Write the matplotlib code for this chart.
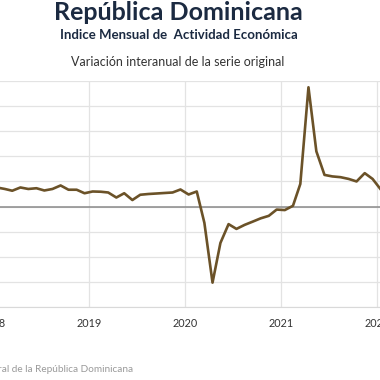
import datetime as dt
import matplotlib
matplotlib.use("Agg")
import matplotlib.pyplot as plt
import matplotlib.dates as mdates

# variacion interanual IMAE (%), enero 2018 - enero 2022
meses = [dt.date(2018 + (i // 12), i % 12 + 1, 15) for i in range(49)]
var_2018 = [7.6, 7.0, 6.3, 7.6, 7.0, 7.3, 6.4, 7.0, 8.4, 6.7, 6.7, 5.3]
var_2019 = [6.0, 5.9, 5.6, 3.6, 5.3, 2.6, 4.7, 5.0, 5.2, 5.4, 5.6, 6.8]
var_2020 = [4.8, 6.0, -6.5, -30.3, -14.5, -7.0, -8.9, -7.3, -6.0, -4.7, -3.7, -1.2]
var_2021 = [-1.4, 0.3, 9.0, 47.5, 22.0, 12.6, 12.0, 11.7, 11.0, 10.0, 13.3, 11.0]
var_2022 = [6.8]
valores = var_2018 + var_2019 + var_2020 + var_2021 + var_2022

navy = "#1b2a41"
linea = "#6b5228"

fig = plt.figure(figsize=(3.8, 3.8), dpi=100)

# eje mas ancho que la figura (la imagen original esta recortada)
x0, x1 = dt.date(2017, 9, 1), dt.date(2022, 4, 1)
px_dia = 96 / 365.25
left_px = 89 - (dt.date(2019, 1, 1) - x0).days * px_dia
right_px = 89 + (x1 - dt.date(2019, 1, 1)).days * px_dia
ax = fig.add_axes([left_px / 380, (380 - 307) / 380,
                   (right_px - left_px) / 380, (307 - 81) / 380])

ax.plot(meses, valores, color=linea, lw=1.9, solid_joinstyle="round", zorder=3)
ax.axhline(0, color="#8a8a8a", lw=1.1, zorder=2)

ax.set_xlim(x0, x1)
ax.set_ylim(-40, 50)
ax.set_yticks(range(-40, 51, 10))
ax.xaxis.set_major_locator(mdates.YearLocator())
ax.xaxis.set_major_formatter(mdates.DateFormatter("%Y"))
ax.grid(True, color="#e3e3e3", lw=0.9)
ax.set_axisbelow(True)
for s in ["top", "right", "left"]:
    ax.spines[s].set_visible(False)
ax.spines["bottom"].set_color("#d9d9d9")
ax.tick_params(axis="both", length=0, labelsize=7.8, labelcolor="#333333", pad=8)
for t in ax.get_xticklabels():
    t.set_fontfamily("Lato")
ax.set_yticklabels([])

fig.text(178 / 380, 1 - 13 / 380, "República Dominicana", ha="center", va="center",
         fontsize=18, fontweight="bold", color=navy, family="Lato")
fig.text(179 / 380, 1 - 35 / 380, "Indice Mensual de  Actividad Económica", ha="center",
         va="center", fontsize=9.5, fontweight="bold", color=navy, family="Lato")
fig.text(178 / 380, 1 - 62 / 380, "Variación interanual de la serie original", ha="center",
         va="center", fontsize=9, color="#333333", family="Lato")
fig.text(133 / 380, 1 - 370 / 380, "Fuente: Banco Central de la República Dominicana",
         ha="right", va="center", fontsize=7.2, color="#9a9a9a", family="Lato")

fig.savefig("out.png", dpi=100)
